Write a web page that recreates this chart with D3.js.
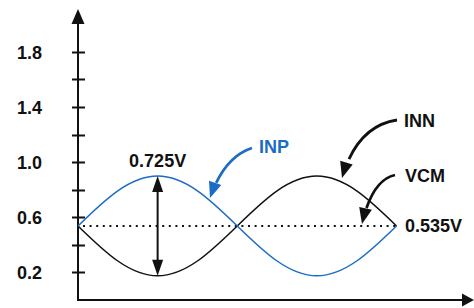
<!DOCTYPE html>
<html>
<head>
<meta charset="utf-8">
<script src="https://cdn.jsdelivr.net/npm/d3@7"></script>
<style>
    body { margin: 0; background: #fff; }
    text { font-family: "Liberation Sans", Arial, sans-serif; font-weight: bold; font-size: 18px; }
</style>
</head>
<body>
<script>
// one period of the differential inputs, sampled every 1/8 period
var phase = [0, 1, 2, 3, 4, 5, 6, 7, 8];
var inp = [0.535, 0.79, 0.8975, 0.79, 0.535, 0.28, 0.1725, 0.28, 0.535];
var inn = [0.535, 0.28, 0.1725, 0.28, 0.535, 0.79, 0.8975, 0.79, 0.535];
var vcm = 0.535;
var tickValues = [0.2, 0.4, 0.6, 0.8, 1.0, 1.2, 1.4, 1.6, 1.8];
var tickLabels = ["0.2", "1.0", "0.6", "1.4", "1.8"];
var swingLabel = "0.725V";
var vcmLabel = "0.535V";

var width = 474,
    height = 308;
var blue = "#1b6cc6",
    black = "#111";

var svg = d3.select("body").append("svg")
    .attr("width", width)
    .attr("height", height);

var x = d3.scaleLinear().domain([0, 8]).range([78, 396.5]);
var y = d3.scaleLinear().domain([0, 1.8]).range([299.5, 52]);

/*
 axes
*/
var axisX = x(0), axisY = 300;
svg.append("line")
    .attr("x1", axisX).attr("x2", axisX)
    .attr("y1", axisY + 1).attr("y2", 20)
    .attr("stroke", black).attr("stroke-width", 2);
svg.append("path")
    .attr("d", "M" + axisX + ",9 L" + (axisX + 6.5) + ",24 L" + (axisX - 6.5) + ",24 Z")
    .attr("fill", black);
svg.append("line")
    .attr("x1", axisX - 1).attr("x2", 466)
    .attr("y1", axisY).attr("y2", axisY)
    .attr("stroke", black).attr("stroke-width", 2);
svg.append("path")
    .attr("d", "M474," + axisY + " L462," + (axisY - 6.5) + " L462," + (axisY + 6.5) + " Z")
    .attr("fill", black);

svg.selectAll(".tick")
    .data(tickValues)
    .enter().append("line")
    .attr("class", "tick")
    .attr("x1", axisX - 6).attr("x2", axisX + 7)
    .attr("y1", function(d) { return Math.round(y(d)) + 0.5; })
    .attr("y2", function(d) { return Math.round(y(d)) + 0.5; })
    .attr("stroke", black).attr("stroke-width", 2);

svg.selectAll(".tlabel")
    .data(tickLabels)
    .enter().append("text")
    .attr("class", "tlabel")
    .attr("x", 42)
    .attr("y", function(d) { return y(+d) + 6.5; })
    .attr("text-anchor", "end")
    .attr("fill", black)
    .text(function(d) { return d; });

/*
 waveforms
*/
var line = d3.line()
    .x(function(d, i) { return x(phase[i]); })
    .y(function(d) { return y(d); })
    .curve(d3.curveNatural);

svg.append("line")
    .attr("x1", x(0) + 5).attr("x2", x(8))
    .attr("y1", y(vcm)).attr("y2", y(vcm))
    .attr("stroke", black).attr("stroke-width", 2)
    .attr("stroke-dasharray", "2,4.6");

svg.append("path")
    .datum(inn)
    .attr("d", line)
    .attr("fill", "none")
    .attr("stroke", black)
    .attr("stroke-width", 1.5);

svg.append("path")
    .datum(inp)
    .attr("d", line)
    .attr("fill", "none")
    .attr("stroke", blue)
    .attr("stroke-width", 1.5);

// filled arrow head, tip at (tx,ty) pointing along (dx,dy)
function head(tx, ty, dx, dy, len, half, color) {
    var n = Math.sqrt(dx * dx + dy * dy);
    dx /= n; dy /= n;
    var bx = tx - dx * len, by = ty - dy * len;
    svg.append("path")
        .attr("d", "M" + tx + "," + ty +
            " L" + (bx - dy * half) + "," + (by + dx * half) +
            " L" + (bx + dy * half) + "," + (by - dx * half) + " Z")
        .attr("fill", color);
}

// curved call-out arrow
function callout(s, c, t, color) {
    var k = 0.8;
    var ex = (1 - k) * (1 - k) * s[0] + 2 * k * (1 - k) * c[0] + k * k * t[0],
        ey = (1 - k) * (1 - k) * s[1] + 2 * k * (1 - k) * c[1] + k * k * t[1];
    var cx = (1 - k) * s[0] + k * c[0],
        cy = (1 - k) * s[1] + k * c[1];
    svg.append("path")
        .attr("d", "M" + s[0] + "," + s[1] + " Q" + cx + "," + cy + " " + ex + "," + ey)
        .attr("fill", "none")
        .attr("stroke", color)
        .attr("stroke-width", 2.8);
    head(t[0], t[1], t[0] - c[0], t[1] - c[1], 16, 6.5, color);
}

// peak-to-peak swing
var pk = d3.max(inp), tr = d3.min(inp);
var px = x(phase[inp.indexOf(pk)]);
svg.append("line")
    .attr("x1", px).attr("x2", px)
    .attr("y1", y(pk) + 10).attr("y2", y(tr) - 10)
    .attr("stroke", black).attr("stroke-width", 2);
head(px, y(pk), 0, -1, 16, 5.5, black);
head(px, y(tr), 0, 1, 16, 5.5, black);

svg.append("text")
    .attr("x", px).attr("y", 166.5)
    .attr("text-anchor", "middle")
    .attr("fill", black)
    .text(swingLabel);

/*
 annotations
*/
callout([252, 148], [224, 157], [210, 198], blue);
svg.append("text").attr("x", 259).attr("y", 153).attr("fill", blue).text("INP");

callout([397, 120], [357, 126], [342, 178], black);
svg.append("text").attr("x", 404).attr("y", 127).attr("fill", black).text("INN");

callout([395, 175], [372, 180], [362, 224], black);
svg.append("text").attr("x", 405).attr("y", 182).attr("fill", black).text("VCM");

svg.append("text").attr("x", 405).attr("y", 232).attr("fill", black).text(vcmLabel);
</script>
</body>
</html>
